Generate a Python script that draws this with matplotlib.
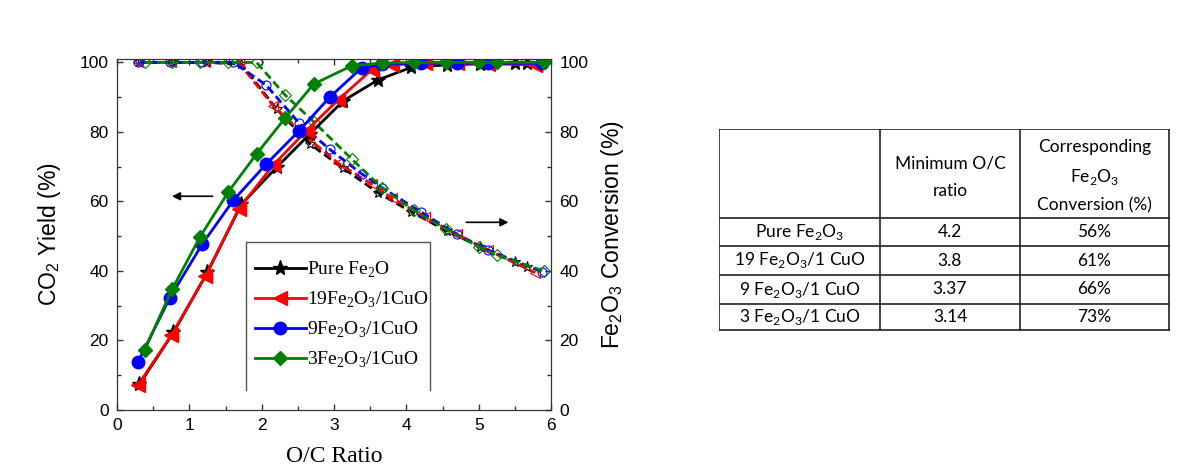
import matplotlib
matplotlib.use('Agg')
import matplotlib.pyplot as plt
from matplotlib.ticker import MultipleLocator

# O/C ratio, CO2 yield (%) and Fe2O3 conversion (%) for each oxygen carrier
black_x = [0.31, 0.78, 1.25, 1.72, 2.21, 2.67, 3.13, 3.61, 4.07, 4.56, 5.02, 5.50, 5.67]
black_yield = [7.4, 22.3, 39.6, 59.2, 69.9, 79.5, 89.0, 95.0, 98.6, 99.3, 99.6, 99.8, 99.8]
black_conv = [100, 100, 100, 99.5, 86.5, 76.5, 69.5, 62.5, 57.0, 51.5, 47.0, 42.5, 41.0]

red_x = [0.29, 0.75, 1.22, 1.68, 2.16, 2.62, 3.06, 3.52, 3.80, 4.26, 4.70, 5.13, 5.78]
red_yield = [7.2, 21.5, 38.5, 57.8, 70.5, 80.4, 89.3, 97.9, 99.3, 99.8, 99.8, 99.6, 99.3]
red_conv = [100, 100, 100, 100, 87.5, 78.5, 71.0, 65.0, 61.0, 55.5, 50.5, 46.0, 39.5]

blue_x = [0.29, 0.73, 1.18, 1.61, 2.06, 2.52, 2.94, 3.38, 3.66, 4.20, 4.70, 5.13, 5.87]
blue_yield = [13.8, 32.3, 47.8, 60.4, 70.7, 80.4, 90.0, 98.4, 99.5, 99.8, 99.8, 99.8, 99.7]
blue_conv = [100, 100, 100, 100, 93.5, 82.5, 75.0, 68.0, 64.0, 57.0, 50.5, 46.0, 39.8]

green_x = [0.38, 0.76, 1.15, 1.54, 1.93, 2.32, 2.72, 3.25, 3.66, 4.10, 4.55, 5.00, 5.25, 5.90]
green_yield = [17.2, 34.7, 49.9, 62.8, 73.7, 83.9, 93.8, 99.1, 99.8, 100, 100, 100, 100, 100]
green_conv = [100, 100, 100, 100, 100, 90.7, 82.9, 72.1, 64.0, 57.5, 52.0, 47.0, 44.5, 40.0]

labels = ['Pure Fe$_\\mathregular{2}$O',
          '19Fe$_\\mathregular{2}$O$_\\mathregular{3}$/1CuO',
          '9Fe$_\\mathregular{2}$O$_\\mathregular{3}$/1CuO',
          '3Fe$_\\mathregular{2}$O$_\\mathregular{3}$/1CuO']

table_rows = ['Pure Fe$_\\mathregular{2}$O$_\\mathregular{3}$',
              '19 Fe$_\\mathregular{2}$O$_\\mathregular{3}$/1 CuO',
              '9 Fe$_\\mathregular{2}$O$_\\mathregular{3}$/1 CuO',
              '3 Fe$_\\mathregular{2}$O$_\\mathregular{3}$/1 CuO']
min_oc = ['4.2', '3.8', '3.37', '3.14']
conv_at_min = ['56%', '61%', '66%', '73%']

sans = 'Liberation Sans'
serif = 'Liberation Serif'
tabfont = 'Lato'

fig = plt.figure(figsize=(11.93, 4.76), dpi=100)
ax = fig.add_axes([0.0981, 0.1387, 0.3638, 0.7374])
ax2 = ax.twinx()

series = [
    (black_x, black_yield, black_conv, 'black', '*', 11, 8),
    (red_x, red_yield, red_conv, '#ff0000', '<', 10, 7),
    (blue_x, blue_yield, blue_conv, '#0000ff', 'o', 9, 6.5),
    (green_x, green_yield, green_conv, '#008000', 'D', 7.5, 6),
]

handles = []
for (x, yld, conv, c, m, ms, ms2), lab in zip(series, labels):
    h, = ax.plot(x, yld, color=c, marker=m, ms=ms, lw=2, label=lab)
    handles.append(h)
    ax2.plot(x, conv, color=c, marker=m, ms=ms2, mfc='none', mew=0.8,
             lw=2, ls=(0, (3, 1.5)))

for a in (ax, ax2):
    a.set_xlim(0, 6)
    a.set_ylim(0, 101)
    a.yaxis.set_major_locator(MultipleLocator(20))
    a.yaxis.set_minor_locator(MultipleLocator(10))
    a.tick_params(which='both', direction='in', labelsize=12.5, length=4,
                  width=1, color='#333333')
    for lbl in a.get_yticklabels() + a.get_xticklabels():
        lbl.set_fontfamily(sans)
    for sp in a.spines.values():
        sp.set_color('#333333')

ax.xaxis.set_major_locator(MultipleLocator(1))
ax.xaxis.set_minor_locator(MultipleLocator(0.5))
ax.tick_params(which='both', top=True)
ax.tick_params(which='minor', length=3)
ax2.tick_params(which='minor', length=3)
ax.tick_params(axis='x', pad=6)
ax.tick_params(axis='y', pad=6)
ax2.tick_params(axis='y', pad=6)

ax.set_xlabel('O/C Ratio', family=serif, fontsize=17, labelpad=9)
ax.set_ylabel('CO$_\\mathregular{2}$ Yield (%)', family=sans, fontsize=16.5, labelpad=12)
ax2.set_ylabel('Fe$_\\mathregular{2}$O$_\\mathregular{3}$ Conversion (%)',
               family=sans, fontsize=16.5, labelpad=8)

ax.annotate('', xy=(0.72, 61.5), xytext=(1.36, 61.5),
            arrowprops=dict(arrowstyle='-|>', color='black', lw=1.2,
                            mutation_scale=12))
ax.annotate('', xy=(5.45, 54), xytext=(4.79, 54),
            arrowprops=dict(arrowstyle='-|>', color='black', lw=1.2,
                            mutation_scale=12))

# legend box (open at the bottom)
bx0, bx1, by0, by1 = 0.2965, 0.721, 0.057, 0.478
ax.plot([bx0, bx0, bx1, bx1], [by0, by1, by1, by0], transform=ax.transAxes,
        color='#555555', lw=1, clip_on=False)
leg = ax.legend(handles=handles, loc='upper left', bbox_to_anchor=(0.30, 0.45),
                frameon=False, prop={'family': serif, 'size': 14},
                handlelength=2.6, handletextpad=0.05, labelspacing=0.5,
                borderaxespad=0)
ax.set_zorder(ax2.get_zorder() + 1)
ax.patch.set_visible(False)

# table
tx = fig.add_axes([719 / 1193, 1 - 331 / 476, 451 / 1193, 202 / 476])
tx.set_xlim(0, 451)
tx.set_ylim(202, 0)
tx.axis('off')
col_edges = [0, 161, 301, 450]
row_edges = [0, 89, 117, 146, 175, 201]
for xe in col_edges:
    tx.plot([xe, xe], [row_edges[0], row_edges[-1]], color='#222222', lw=1.2)
for ye in row_edges:
    tx.plot([col_edges[0], col_edges[-1]], [ye, ye], color='#222222', lw=1.2)

tfs = 12.5
tx.text(231, 48, 'Minimum O/C\nratio', ha='center', va='center',
        family=tabfont, fontsize=tfs, linespacing=1.9)
tx.text(375.5, 47, 'Corresponding\nFe$_\\mathregular{2}$O$_\\mathregular{3}$\nConversion (%)',
        ha='center', va='center', family=tabfont, fontsize=tfs, linespacing=1.8)
for i in range(4):
    yc = (row_edges[i + 1] + row_edges[i + 2]) / 2
    tx.text(80.5, yc, table_rows[i], ha='center', va='center',
            family=tabfont, fontsize=tfs)
    tx.text(231, yc, min_oc[i], ha='center', va='center',
            family=tabfont, fontsize=tfs)
    tx.text(375.5, yc, conv_at_min[i], ha='center', va='center',
            family=tabfont, fontsize=tfs)

fig.savefig('out.png', dpi=100)
